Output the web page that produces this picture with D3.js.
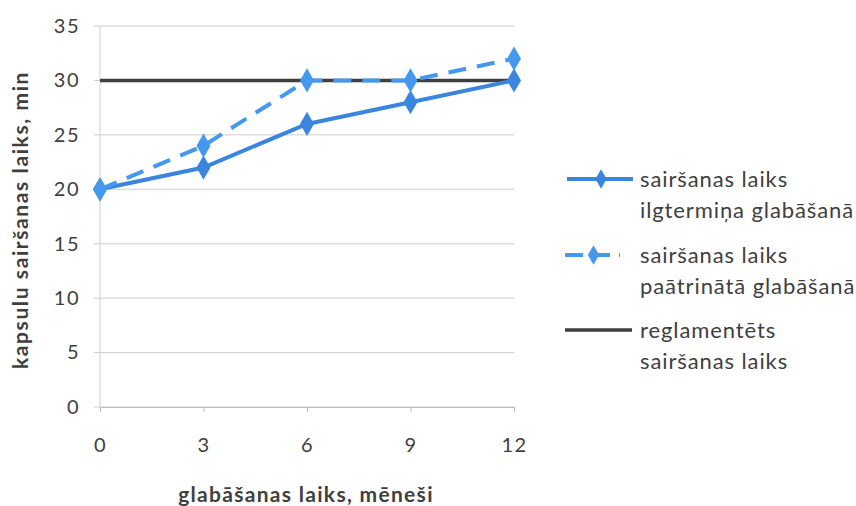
<!DOCTYPE html>
<html>
<head>
<meta charset="utf-8">
<script src="https://cdn.jsdelivr.net/npm/d3@7"></script>
<style>
  html, body { margin: 0; padding: 0; background: #fff; }
  svg { display: block; font-family: Lato, "Open Sans", sans-serif; }
</style>
</head>
<body>
<svg id="chart" width="856" height="506"></svg>
<script>
// Storage time in months
const months = [0, 3, 6, 9, 12];
// Dissolution time, minutes
const longTerm = [20, 22, 26, 28, 30];
const accelerated = [20, 24, 30, 30, 32];
const regulated = [30, 30, 30, 30, 30];
const yTicks = [0, 5, 10, 15, 20, 25, 30, 35];

const seriesNames = [
  ["sairšanas laiks", "ilgtermiņa glabāšanā"],
  ["sairšanas laiks", "paātrinātā glabāšanā"],
  ["reglamentēts", "sairšanas laiks"]
];

const svg = d3.select("#chart");
const x = d3.scalePoint().domain(months).range([100, 514]);
const y = d3.scaleLinear().domain([0, 35]).range([407, 26]);

// horizontal gridlines, with short ticks left of the axis
svg.append("g").selectAll("line").data(yTicks).join("line")
  .attr("x1", 94).attr("x2", 514)
  .attr("y1", d => y(d)).attr("y2", d => y(d))
  .attr("stroke", "#cfcfcf").attr("stroke-width", 1);

// left axis line
svg.append("line").attr("x1", 100).attr("x2", 100)
  .attr("y1", y(35)).attr("y2", y(0))
  .attr("stroke", "#cfcfcf").attr("stroke-width", 1);

// x axis with ticks
const xAxis = svg.append("g").attr("transform", `translate(0,${y(0)})`)
  .call(d3.axisBottom(x).tickSize(5).tickPadding(26));
xAxis.select(".domain").attr("stroke", "#bdbdbd");
xAxis.selectAll(".tick line").attr("stroke", "#bdbdbd");
xAxis.selectAll("text").attr("font-size", 20).attr("fill", "#404040")
  .attr("letter-spacing", 1.5).attr("font-family", "Lato, sans-serif");

// y tick labels
const yAxis = svg.append("g").attr("transform", "translate(100,0)")
  .call(d3.axisLeft(y).tickValues(yTicks).tickSize(0).tickPadding(20));
yAxis.select(".domain").remove();
yAxis.selectAll("text").attr("font-size", 20).attr("fill", "#404040")
  .attr("letter-spacing", 1.5).attr("font-family", "Lato, sans-serif");

// axis titles
svg.append("text").attr("x", 306).attr("y", 502)
  .attr("text-anchor", "middle").attr("font-size", 21).attr("font-weight", "bold")
  .attr("letter-spacing", 1.3)
  .attr("fill", "#404040").text("glabāšanas laiks, mēneši");
svg.append("text").attr("transform", "translate(28,220) rotate(-90)")
  .attr("text-anchor", "middle").attr("font-size", 21).attr("font-weight", "bold")
  .attr("letter-spacing", 1.6)
  .attr("fill", "#404040").text("kapsulu sairšanas laiks, min");

const line = d3.line().x((d, i) => x(months[i])).y(d => y(d));
const diamond = d3.symbol().type(d3.symbolDiamond).size(170);
const smallDiamond = d3.symbol().type(d3.symbolDiamond).size(110);

const styles = [
  { data: longTerm, color: "#3a85de", dash: null, width: 4, marker: true },
  { data: accelerated, color: "#4499ee", dash: "18,11", width: 4, marker: true },
  { data: regulated, color: "#3f3f3f", dash: null, width: 3.5, marker: false }
];

// draw regulated line first, then the two measured series
[2, 0, 1].forEach(k => {
  const s = styles[k];
  svg.append("path").datum(s.data)
    .attr("d", line).attr("fill", "none")
    .attr("stroke", s.color).attr("stroke-width", s.width)
    .attr("stroke-dasharray", s.dash);
  if (s.marker) {
    svg.append("g").selectAll("path").data(s.data).join("path")
      .attr("d", diamond)
      .attr("transform", (d, i) => `translate(${x(months[i])},${y(d)})`)
      .attr("fill", s.color);
  }
});

// legend
const legendY = [179, 255, 330];
const legendX = [[567, 633], [565, 620], [565, 632]];
styles.forEach((s, k) => {
  const g = svg.append("g").attr("transform", `translate(0,${legendY[k]})`);
  g.append("line").attr("x1", legendX[k][0]).attr("x2", legendX[k][1]).attr("y1", 0).attr("y2", 0)
    .attr("stroke", s.color).attr("stroke-width", s.width)
    .attr("stroke-dasharray", s.dash ? "18,9" : null);
  if (s.marker) {
    g.append("path").attr("d", smallDiamond)
      .attr("transform", `translate(${(legendX[k][0] + legendX[k][1]) / 2 + 1},0)`).attr("fill", s.color);
  }
  g.selectAll("text").data(seriesNames[k]).join("text")
    .attr("x", 640).attr("y", (d, i) => 8 + i * 31)
    .attr("font-size", 22).attr("letter-spacing", 0.9)
    .attr("fill", "#404040").text(d => d);
});
</script>
</body>
</html>
